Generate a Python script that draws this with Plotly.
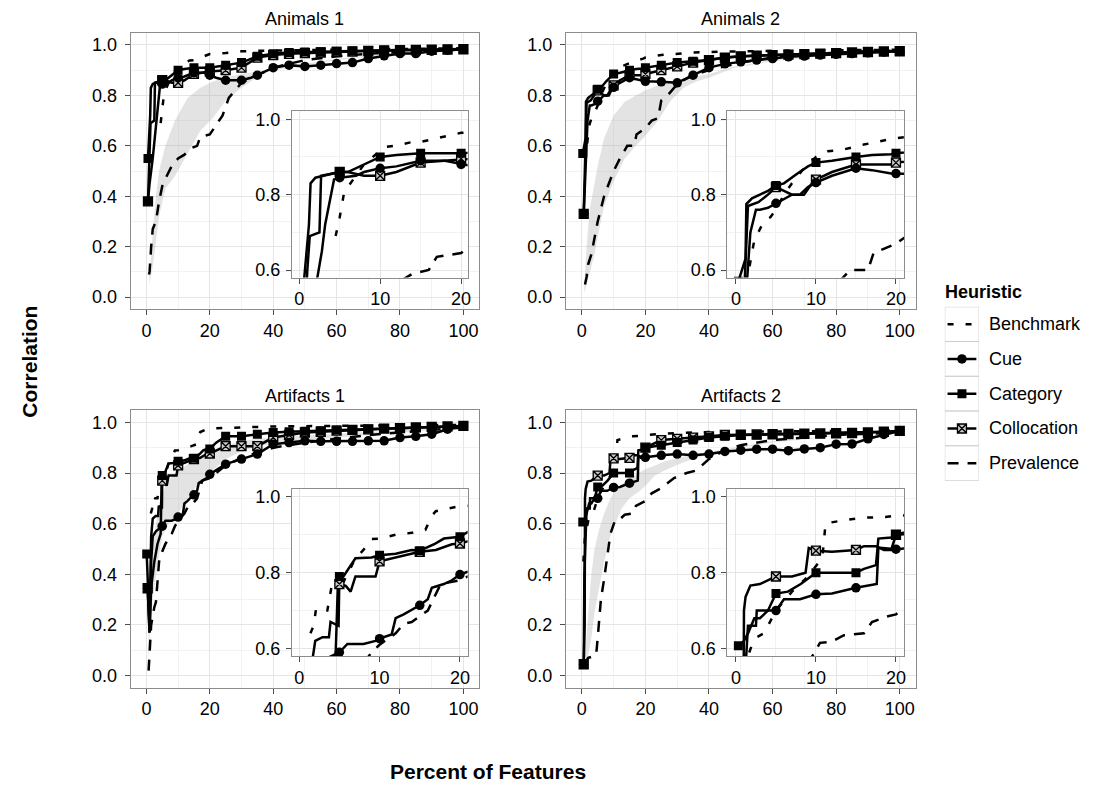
import plotly.graph_objects as go

# window size and the page's default body margin
W, H = 1094, 790
PAD = 8
FW, FH = W - 2 * PAD, H - 2 * PAD
FONT = "Liberation Sans, Arial, sans-serif"

TAIL_X = [25, 30, 35, 40, 45, 50, 55, 60, 65, 70, 75, 80, 85, 90, 95, 100]

PANEL_TITLES = ["Animals 1", "Animals 2", "Artifacts 1", "Artifacts 2"]
HEURISTICS = ["Benchmark", "Cue", "Category", "Collocation", "Prevalence"]
MAIN_X_TICKS = [0, 20, 40, 60, 80, 100]
MAIN_Y_TICKS = [0.0, 0.2, 0.4, 0.6, 0.8, 1.0]
INSET_X_TICKS = [0, 10, 20]
INSET_Y_TICKS = [0.6, 0.8, 1.0]

# ---------------- Animals 1 ----------------
A1_BENCH_X = [4.5, 5, 5.5, 6, 8, 10, 10.5, 12, 13.6, 15, 17, 20, 25, 30, 40, 50, 60, 70, 80, 90, 100]
A1_BENCH_Y = [0.69, 0.74, 0.80, 0.82, 0.88, 0.915, 0.926, 0.93, 0.938, 0.94, 0.95, 0.964, 0.968, 0.975, 0.978, 0.98, 0.982, 0.984, 0.985, 0.986, 0.987]
A1_CUE_X = [0.5, 1, 2, 2.8, 3.2, 4.3, 5, 7, 8, 10, 12, 15, 18, 20, 22] + TAIL_X[:2] + [33] + TAIL_X[2:]
A1_CUE_Y = [0.38, 0.45, 0.55, 0.65, 0.72, 0.84, 0.845, 0.85, 0.86, 0.87, 0.875, 0.89, 0.89, 0.88, 0.87, 0.86, 0.86, 0.87, 0.88, 0.91, 0.92, 0.915, 0.92, 0.926, 0.93, 0.946, 0.957, 0.966, 0.966, 0.975, 0.979, 0.983]
A1_CAT_X = [0.5, 1.2, 1.4, 2, 3, 4, 5, 6, 7, 8, 10, 12, 15, 20] + TAIL_X
A1_CAT_Y = [0.55, 0.72, 0.83, 0.845, 0.85, 0.855, 0.86, 0.86, 0.87, 0.88, 0.90, 0.905, 0.91, 0.91, 0.92, 0.93, 0.955, 0.965, 0.97, 0.972, 0.973, 0.975, 0.976, 0.978, 0.979, 0.98, 0.981, 0.982, 0.983, 0.984]
A1_COL_X = [0.5, 1, 1.3, 2.5, 2.7, 4, 5, 6, 8, 10, 12, 15, 20] + TAIL_X
A1_COL_Y = [0.38, 0.60, 0.69, 0.70, 0.85, 0.855, 0.86, 0.86, 0.85, 0.85, 0.86, 0.885, 0.895, 0.90, 0.91, 0.95, 0.96, 0.965, 0.968, 0.97, 0.972, 0.974, 0.976, 0.978, 0.979, 0.98, 0.981, 0.982, 0.983]
A1_PREV_X = [0.8, 1, 1.5, 2, 3, 4, 5, 6, 8, 10, 12, 14, 16, 17, 20, 22, 24, 26, 28, 30, 35, 40, 50, 60, 70, 80, 90, 100]
A1_PREV_Y = [0.09, 0.10, 0.20, 0.27, 0.30, 0.38, 0.44, 0.47, 0.52, 0.55, 0.565, 0.59, 0.60, 0.635, 0.645, 0.68, 0.72, 0.79, 0.82, 0.85, 0.88, 0.91, 0.94, 0.955, 0.965, 0.972, 0.978, 0.982]
A1_RIB_X = [1, 2, 3, 4, 6, 9, 13, 17, 21, 25, 30, 37, 45, 60, 80, 100]
A1_RIB_LO = [0.05, 0.12, 0.22, 0.32, 0.43, 0.48, 0.57, 0.66, 0.71, 0.78, 0.83, 0.89, 0.91, 0.94, 0.965, 0.98]
A1_RIB_HI = [0.09, 0.25, 0.40, 0.50, 0.60, 0.70, 0.79, 0.83, 0.855, 0.87, 0.885, 0.90, 0.915, 0.945, 0.97, 0.982]

# ---------------- Animals 2 ----------------
A2_BENCH_X = [1.7, 2.3, 2.8, 3.5, 4.3, 5, 6, 7, 8.5, 10, 11.5, 13.5, 16, 19.3, 20, 25, 30, 35, 40, 50, 60, 70, 80, 90, 100]
A2_BENCH_Y = [0.61, 0.68, 0.70, 0.73, 0.74, 0.76, 0.80, 0.83, 0.87, 0.90, 0.915, 0.92, 0.933, 0.946, 0.95, 0.96, 0.965, 0.97, 0.972, 0.975, 0.977, 0.978, 0.979, 0.98, 0.981]
A2_CUE_X = [0.6, 1, 1.5, 1.8, 2.5, 3, 4, 5, 6, 7, 8, 9, 10, 12, 15, 17, 19.4, 20] + TAIL_X
A2_CUE_Y = [0.33, 0.45, 0.60, 0.70, 0.76, 0.76, 0.765, 0.777, 0.79, 0.80, 0.80, 0.82, 0.832, 0.85, 0.87, 0.865, 0.856, 0.856, 0.854, 0.85, 0.88, 0.91, 0.925, 0.933, 0.94, 0.946, 0.953, 0.956, 0.96, 0.963, 0.966, 0.969, 0.972, 0.975]
A2_CAT_X = [0.3, 1.2, 1.3, 2, 3, 4, 5, 6, 7.6, 9, 10, 12, 15, 17, 19.4, 20] + TAIL_X
A2_CAT_Y = [0.57, 0.63, 0.775, 0.79, 0.80, 0.81, 0.824, 0.83, 0.855, 0.875, 0.885, 0.89, 0.90, 0.905, 0.907, 0.91, 0.92, 0.93, 0.935, 0.94, 0.95, 0.955, 0.958, 0.96, 0.962, 0.964, 0.966, 0.968, 0.97, 0.972, 0.974, 0.976]
A2_COL_X = [0.6, 1.0, 1.4, 1.5, 2.8, 4, 5, 6, 7, 8.5, 9.5, 10, 12, 15, 17, 19.4, 20] + TAIL_X
A2_COL_Y = [0.33, 0.55, 0.72, 0.77, 0.78, 0.80, 0.82, 0.81, 0.80, 0.80, 0.83, 0.84, 0.86, 0.88, 0.88, 0.88, 0.885, 0.90, 0.915, 0.93, 0.94, 0.95, 0.955, 0.958, 0.96, 0.962, 0.964, 0.966, 0.968, 0.97, 0.972, 0.974, 0.975]
A2_PREV_X = [1, 1.5, 2, 3, 5, 7, 10, 12, 14.3, 16.5, 17.2, 19, 20, 22, 24, 25, 27, 29, 32, 35, 40, 50, 60, 70, 80, 90, 100]
A2_PREV_Y = [0.05, 0.08, 0.13, 0.17, 0.30, 0.40, 0.50, 0.55, 0.60, 0.60, 0.645, 0.66, 0.67, 0.70, 0.71, 0.78, 0.80, 0.83, 0.86, 0.88, 0.90, 0.93, 0.95, 0.96, 0.97, 0.975, 0.978]
A2_RIB_X = [0.8, 1.5, 2.5, 4, 5, 7, 10, 13.5, 17, 20, 24, 28, 32, 36, 40, 48, 60, 80, 100]
A2_RIB_LO = [0.015, 0.05, 0.10, 0.17, 0.24, 0.36, 0.46, 0.55, 0.60, 0.64, 0.70, 0.78, 0.83, 0.855, 0.87, 0.91, 0.935, 0.96, 0.975]
A2_RIB_HI = [0.05, 0.20, 0.35, 0.45, 0.52, 0.63, 0.72, 0.775, 0.80, 0.82, 0.84, 0.855, 0.865, 0.875, 0.885, 0.915, 0.94, 0.962, 0.976]

# ---------------- Artifacts 1 ----------------
B1_BENCH_X = [1.4, 1.8, 2.1, 2.7, 3.5, 4.0, 4.7, 5.5, 7, 8, 9, 10, 12, 14, 15.7, 16.5, 17, 19.5, 20, 25, 30, 35, 40, 50, 60, 70, 80, 90, 100]
B1_BENCH_Y = [0.64, 0.66, 0.705, 0.70, 0.70, 0.76, 0.77, 0.775, 0.838, 0.86, 0.889, 0.89, 0.90, 0.905, 0.913, 0.95, 0.962, 0.975, 0.976, 0.978, 0.98, 0.982, 0.984, 0.985, 0.986, 0.987, 0.988, 0.989, 0.99]
B1_CUE_X = [0.4, 1, 1.5, 2, 3, 4, 5, 6, 8, 9.5, 10, 11.5, 12, 13, 15, 16, 16.5, 18, 19, 20, 22] + TAIL_X
B1_CUE_Y = [0.345, 0.17, 0.45, 0.55, 0.57, 0.58, 0.59, 0.612, 0.612, 0.62, 0.626, 0.637, 0.68, 0.69, 0.714, 0.73, 0.76, 0.77, 0.78, 0.795, 0.81, 0.835, 0.855, 0.875, 0.914, 0.92, 0.927, 0.925, 0.925, 0.925, 0.927, 0.927, 0.94, 0.945, 0.953, 0.973, 0.986]
B1_CAT_X = [0.1, 0.5, 1, 1.5, 2, 2.9, 3.7, 3.9, 4.9, 5, 5.5, 7, 9, 10, 12, 14, 15, 16.8, 18, 20, 22] + TAIL_X
B1_CAT_Y = [0.48, 0.35, 0.20, 0.55, 0.62, 0.63, 0.63, 0.67, 0.66, 0.79, 0.79, 0.838, 0.84, 0.846, 0.85, 0.86, 0.858, 0.875, 0.89, 0.895, 0.92, 0.945, 0.945, 0.953, 0.96, 0.963, 0.965, 0.967, 0.97, 0.972, 0.974, 0.976, 0.978, 0.98, 0.982, 0.984, 0.986]
B1_COL_X = [0.4, 1, 1.5, 2.5, 3.5, 4.5, 4.8, 5, 5.8, 6.4, 7, 9.5, 10, 12, 15, 17, 19, 20] + TAIL_X
B1_COL_Y = [0.345, 0.17, 0.35, 0.45, 0.52, 0.56, 0.76, 0.77, 0.765, 0.75, 0.79, 0.79, 0.83, 0.84, 0.855, 0.86, 0.875, 0.877, 0.906, 0.906, 0.906, 0.94, 0.95, 0.96, 0.963, 0.967, 0.97, 0.972, 0.975, 0.977, 0.98, 0.982, 0.984, 0.986]
B1_PREV_X = [0.7, 1, 1.5, 2.5, 3, 4, 5, 6, 7, 8, 9, 10, 12, 13, 14, 16, 17.6, 19, 20, 22, 25, 30, 35, 40, 50, 60, 70, 80, 90, 100]
B1_PREV_Y = [0.02, 0.10, 0.20, 0.27, 0.29, 0.45, 0.49, 0.52, 0.54, 0.56, 0.59, 0.61, 0.64, 0.665, 0.67, 0.70, 0.77, 0.775, 0.78, 0.80, 0.83, 0.86, 0.88, 0.90, 0.92, 0.935, 0.95, 0.96, 0.97, 0.98]
B1_RIB_X = [0.5, 1, 2, 3, 4, 5, 7, 10, 13, 16, 20, 25, 30, 35, 40, 50, 60, 80, 100]
B1_RIB_LO = [0.05, 0.15, 0.30, 0.40, 0.48, 0.55, 0.60, 0.64, 0.70, 0.75, 0.80, 0.855, 0.885, 0.905, 0.915, 0.93, 0.94, 0.96, 0.98]
B1_RIB_HI = [0.10, 0.30, 0.50, 0.60, 0.68, 0.72, 0.77, 0.81, 0.835, 0.855, 0.88, 0.91, 0.925, 0.935, 0.94, 0.95, 0.955, 0.97, 0.985]

# ---------------- Artifacts 2 ----------------
B2_BENCH_X = [0.5, 1, 2, 2.6, 3.5, 5, 7, 9, 10.8, 11.2, 14, 16, 18.7, 20, 25, 30, 35, 40, 50, 60, 70, 80, 90, 100]
B2_BENCH_Y = [0.45, 0.55, 0.61, 0.63, 0.64, 0.70, 0.75, 0.79, 0.84, 0.93, 0.94, 0.945, 0.947, 0.95, 0.955, 0.958, 0.96, 0.962, 0.963, 0.964, 0.965, 0.966, 0.967, 0.968]
B2_CUE_X = [0.6, 0.8, 1.5, 2.5, 2.6, 5, 6, 8, 10, 12, 15, 17.6, 17.8, 19.4, 20] + TAIL_X
B2_CUE_Y = [0.045, 0.40, 0.66, 0.66, 0.70, 0.70, 0.73, 0.73, 0.743, 0.745, 0.76, 0.77, 0.866, 0.863, 0.862, 0.87, 0.875, 0.87, 0.875, 0.885, 0.89, 0.894, 0.894, 0.888, 0.895, 0.90, 0.914, 0.915, 0.935, 0.952, 0.966]
B2_CAT_X = [0.3, 1, 1.5, 2.3, 3, 4, 5, 6.5, 8.1, 10, 12, 15, 16, 17.5, 17.8, 19.4, 20] + TAIL_X
B2_CAT_Y = [0.607, 0.62, 0.64, 0.68, 0.68, 0.70, 0.745, 0.75, 0.77, 0.80, 0.80, 0.80, 0.81, 0.82, 0.89, 0.893, 0.90, 0.91, 0.92, 0.93, 0.94, 0.945, 0.95, 0.951, 0.952, 0.953, 0.954, 0.955, 0.956, 0.957, 0.96, 0.963, 0.966]
B2_COL_X = [0.6, 0.9, 1.0, 1.2, 1.8, 3, 5, 7, 8.7, 9.1, 10, 12, 15, 16, 17.5, 18.5, 19.4, 20] + TAIL_X
B2_COL_Y = [0.045, 0.20, 0.70, 0.736, 0.766, 0.77, 0.79, 0.79, 0.80, 0.865, 0.858, 0.855, 0.86, 0.87, 0.87, 0.86, 0.86, 0.90, 0.93, 0.935, 0.94, 0.945, 0.95, 0.951, 0.952, 0.953, 0.954, 0.955, 0.956, 0.957, 0.958, 0.96, 0.963, 0.966]
B2_PREV_X = [0.5, 1, 2, 4.5, 5, 6, 7, 8, 9, 10.5, 12, 13.5, 16, 17, 19, 20, 22, 25, 29, 33, 36, 40, 45, 50, 60, 70, 80, 90, 100]
B2_PREV_Y = [0.045, 0.05, 0.07, 0.08, 0.15, 0.30, 0.38, 0.47, 0.56, 0.615, 0.618, 0.635, 0.64, 0.67, 0.685, 0.69, 0.72, 0.74, 0.78, 0.80, 0.81, 0.855, 0.89, 0.91, 0.93, 0.94, 0.95, 0.955, 0.96]
B2_RIB_X = [1, 2, 3, 4, 5.5, 7, 9, 10.5, 12.5, 15, 17.8, 20, 23, 26, 30.5, 36, 40, 50, 60, 80, 100]
B2_RIB_LO = [0.03, 0.08, 0.15, 0.25, 0.35, 0.45, 0.55, 0.60, 0.66, 0.70, 0.725, 0.75, 0.79, 0.81, 0.835, 0.86, 0.875, 0.90, 0.92, 0.945, 0.96]
B2_RIB_HI = [0.08, 0.25, 0.40, 0.50, 0.58, 0.64, 0.70, 0.73, 0.755, 0.78, 0.80, 0.815, 0.83, 0.845, 0.86, 0.875, 0.885, 0.905, 0.925, 0.948, 0.962]

# table built from the named arrays
PANELS = [
    dict(bench=(A1_BENCH_X, A1_BENCH_Y), cue=(A1_CUE_X, A1_CUE_Y), cat=(A1_CAT_X, A1_CAT_Y),
         col=(A1_COL_X, A1_COL_Y), prev=(A1_PREV_X, A1_PREV_Y), rib=(A1_RIB_X, A1_RIB_LO, A1_RIB_HI)),
    dict(bench=(A2_BENCH_X, A2_BENCH_Y), cue=(A2_CUE_X, A2_CUE_Y), cat=(A2_CAT_X, A2_CAT_Y),
         col=(A2_COL_X, A2_COL_Y), prev=(A2_PREV_X, A2_PREV_Y), rib=(A2_RIB_X, A2_RIB_LO, A2_RIB_HI)),
    dict(bench=(B1_BENCH_X, B1_BENCH_Y), cue=(B1_CUE_X, B1_CUE_Y), cat=(B1_CAT_X, B1_CAT_Y),
         col=(B1_COL_X, B1_COL_Y), prev=(B1_PREV_X, B1_PREV_Y), rib=(B1_RIB_X, B1_RIB_LO, B1_RIB_HI)),
    dict(bench=(B2_BENCH_X, B2_BENCH_Y), cue=(B2_CUE_X, B2_CUE_Y), cat=(B2_CAT_X, B2_CAT_Y),
         col=(B2_COL_X, B2_COL_Y), prev=(B2_PREV_X, B2_PREV_Y), rib=(B2_RIB_X, B2_RIB_LO, B2_RIB_HI)),
]

# ---------------- layout geometry (window pixels) ----------------
MAIN_PX = [((131, 481), (31, 309.2)), ((568, 919), (31, 309.2)),
           ((131, 481), (410.8, 690.2)), ((568, 919), (410.8, 690.2))]
INSET_PX = [((293, 469.3), (110, 277.3)), ((730, 907.3), (110, 277.3)),
            ((293, 469.3), (490, 658.3)), ((730, 907.3), (490, 658.3))]
INSET_XRANGE = [[-0.9, 20.8], [-1.08, 21.0], [-0.9, 20.95], [-1.08, 21.0]]
MAIN_XRANGE = [-5, 105]
MAIN_YRANGE = [-0.048, 1.048]
INSET_YRANGE = [0.58, 1.021]
LEGEND_PX = ((948.3, 982.7), (306.7, 481.7))

TICK_SIZE = 18
TEXT_SIZE = 18
LINE_W = 2.5
BENCH_DASH = "6px,12px"
PREV_DASH = "11px,9px"
RIBBON = "rgba(170,170,170,0.33)"
COL_FILL = "#C8C8C8"


def px_x(px):
    return (px - PAD) / FW


def px_y(py):
    return 1 - (py - PAD) / FH


def xdom(p):
    return [px_x(p[0]), px_x(p[1])]


def ydom(p):
    return [px_y(p[1]), px_y(p[0])]


def nm(prefix, n):
    return prefix + ("" if n == 1 else str(n))


def marker_idx(xs, ys):
    n = min(len(xs), len(ys))
    return [i for i in range(n) if i == 0 or abs(xs[i] / 5 - round(xs[i] / 5)) < 1e-9]


fig = go.Figure()

SERIES_STYLE = {
    "prev": dict(dash=PREV_DASH, symbol=None),
    "bench": dict(dash=BENCH_DASH, symbol=None),
    "cue": dict(dash="solid", symbol="circle"),
    "cat": dict(dash="solid", symbol="square"),
    "col": dict(dash="solid", symbol="square-x"),
}
LINE_ORDER = ["prev", "bench", "cue", "cat", "col"]
MARK_ORDER = ["col", "cue", "cat"]


def marker_style(key):
    if key == "col":
        return dict(symbol="square-x", size=9, color=COL_FILL, line=dict(color="black", width=1.3))
    if key == "cat":
        return dict(symbol="square", size=9, color="black", line=dict(width=0))
    return dict(symbol="circle", size=9.5, color="black", line=dict(width=0))


def add_series(p, xa, ya, with_ribbon):
    if with_ribbon:
        rx, lo, hi = p["rib"]
        fig.add_trace(go.Scatter(x=list(rx) + list(rx)[::-1], y=list(lo) + list(hi)[::-1],
                                 fill="toself", fillcolor=RIBBON, line=dict(width=0),
                                 mode="lines", xaxis=xa, yaxis=ya, showlegend=False, hoverinfo="skip"))
    for key in LINE_ORDER:
        xs, ys = p[key]
        st = SERIES_STYLE[key]
        fig.add_trace(go.Scatter(x=xs, y=ys, mode="lines",
                                 line=dict(color="black", width=LINE_W, dash=st["dash"]),
                                 xaxis=xa, yaxis=ya, showlegend=False, hoverinfo="skip"))
    for key in MARK_ORDER:
        xs, ys = p[key]
        idx = marker_idx(xs, ys)
        fig.add_trace(go.Scatter(x=[xs[i] for i in idx], y=[ys[i] for i in idx], mode="markers",
                                 marker=marker_style(key), xaxis=xa, yaxis=ya,
                                 showlegend=False, hoverinfo="skip"))


AX_COMMON = dict(showline=True, mirror=True, linecolor="#8C8C8C", linewidth=1,
                 ticks="outside", ticklen=5, tickwidth=1, tickcolor="#4D4D4D",
                 showgrid=True, gridcolor="#E5E5E5", gridwidth=1, zeroline=False,
                 tickfont=dict(size=TICK_SIZE, color="black", family=FONT), fixedrange=True)

layout = {}
for k, p in enumerate(PANELS):
    m, ins = 2 * k + 1, 2 * k + 2
    (mx, my), (ix, iy) = MAIN_PX[k], INSET_PX[k]
    layout[nm("xaxis", m)] = dict(AX_COMMON, domain=xdom(mx), range=MAIN_XRANGE, anchor=nm("y", m),
                                  tickmode="array", tickvals=MAIN_X_TICKS,
                                  minor=dict(tickmode="linear", tick0=0, dtick=10, showgrid=True,
                                             gridcolor="#F2F2F2", ticks=""))
    layout[nm("yaxis", m)] = dict(AX_COMMON, domain=ydom(my), range=MAIN_YRANGE, anchor=nm("x", m),
                                  tickmode="array", tickvals=MAIN_Y_TICKS, tickformat=".1f",
                                  ticklabelstandoff=4,
                                  minor=dict(tickmode="linear", tick0=0, dtick=0.1, showgrid=True,
                                             gridcolor="#F2F2F2", ticks=""))
    layout[nm("xaxis", ins)] = dict(AX_COMMON, domain=xdom(ix), range=INSET_XRANGE[k], anchor=nm("y", ins),
                                    tickmode="array", tickvals=INSET_X_TICKS,
                                    minor=dict(tickmode="linear", tick0=0, dtick=5, showgrid=True,
                                               gridcolor="#F2F2F2", ticks=""))
    layout[nm("yaxis", ins)] = dict(AX_COMMON, domain=ydom(iy), range=INSET_YRANGE, anchor=nm("x", ins),
                                    tickmode="array", tickvals=INSET_Y_TICKS, tickformat=".1f",
                                    ticklabelstandoff=2,
                                    minor=dict(tickmode="linear", tick0=0, dtick=0.1, showgrid=True,
                                               gridcolor="#F2F2F2", ticks=""))

for k, p in enumerate(PANELS):
    add_series(p, nm("x", 2 * k + 1), nm("y", 2 * k + 1), True)
for k, p in enumerate(PANELS):
    add_series(p, nm("x", 2 * k + 2), nm("y", 2 * k + 2), False)

# ---------------- legend (own small axis) ----------------
layout["xaxis9"] = dict(domain=xdom(LEGEND_PX[0]), range=[0, 1], anchor="y9", visible=False, fixedrange=True)
layout["yaxis9"] = dict(domain=ydom(LEGEND_PX[1]), range=[len(HEURISTICS), 0], anchor="x9", visible=False, fixedrange=True)
LEG_KEYS = {"Benchmark": "bench", "Cue": "cue", "Category": "cat", "Collocation": "col", "Prevalence": "prev"}
shapes = []
annotations = []
for i, name in enumerate(HEURISTICS):
    key = LEG_KEYS[name]
    st = SERIES_STYLE[key]
    shapes.append(dict(type="rect", xref="x9", yref="y9", x0=0, x1=1, y0=i, y1=i + 1,
                       line=dict(color="#CCCCCC", width=1), fillcolor="white", layer="below"))
    fig.add_trace(go.Scatter(x=[0.08, 0.92], y=[i + 0.5, i + 0.5], mode="lines",
                             line=dict(color="black", width=LINE_W, dash=st["dash"]),
                             xaxis="x9", yaxis="y9", showlegend=False, hoverinfo="skip"))
    if st["symbol"] is not None:
        fig.add_trace(go.Scatter(x=[0.5], y=[i + 0.5], mode="markers", marker=marker_style(key),
                                 xaxis="x9", yaxis="y9", showlegend=False, hoverinfo="skip"))
    annotations.append(dict(text=name, xref="paper", yref="y9", x=px_x(991), y=i + 0.5,
                            xanchor="left", yanchor="middle", showarrow=False,
                            font=dict(size=TEXT_SIZE, color="black", family=FONT)))
annotations.append(dict(text="<b>Heuristic</b>", xref="paper", yref="paper", x=px_x(946), y=px_y(292),
                        xanchor="left", yanchor="middle", showarrow=False,
                        font=dict(size=TEXT_SIZE, color="black", family=FONT)))

# panel titles
for k, title in enumerate(PANEL_TITLES):
    (mx, my) = MAIN_PX[k]
    annotations.append(dict(text=title, xref="paper", yref="paper", x=px_x((mx[0] + mx[1]) / 2),
                            y=px_y(my[0] - 14), xanchor="center", yanchor="middle", showarrow=False,
                            font=dict(size=TEXT_SIZE, color="black", family=FONT)))

# axis titles
annotations.append(dict(text="<b>Percent of Features</b>", xref="paper", yref="paper", x=px_x(490), y=px_y(774),
                        xanchor="center", yanchor="middle", showarrow=False,
                        font=dict(size=21, color="black", family=FONT)))
annotations.append(dict(text="<b>Correlation</b>", xref="paper", yref="paper", x=px_x(30), y=px_y(362),
                        xanchor="center", yanchor="middle", showarrow=False, textangle=-90,
                        font=dict(size=21, color="black", family=FONT)))

fig.update_layout(**layout)
fig.update_layout(width=FW, height=FH, margin=dict(l=0, r=0, t=0, b=0),
                  paper_bgcolor="white", plot_bgcolor="white",
                  shapes=shapes, annotations=annotations, showlegend=False,
                  font=dict(family=FONT, color="black"))

fig.write_html("out.html")
